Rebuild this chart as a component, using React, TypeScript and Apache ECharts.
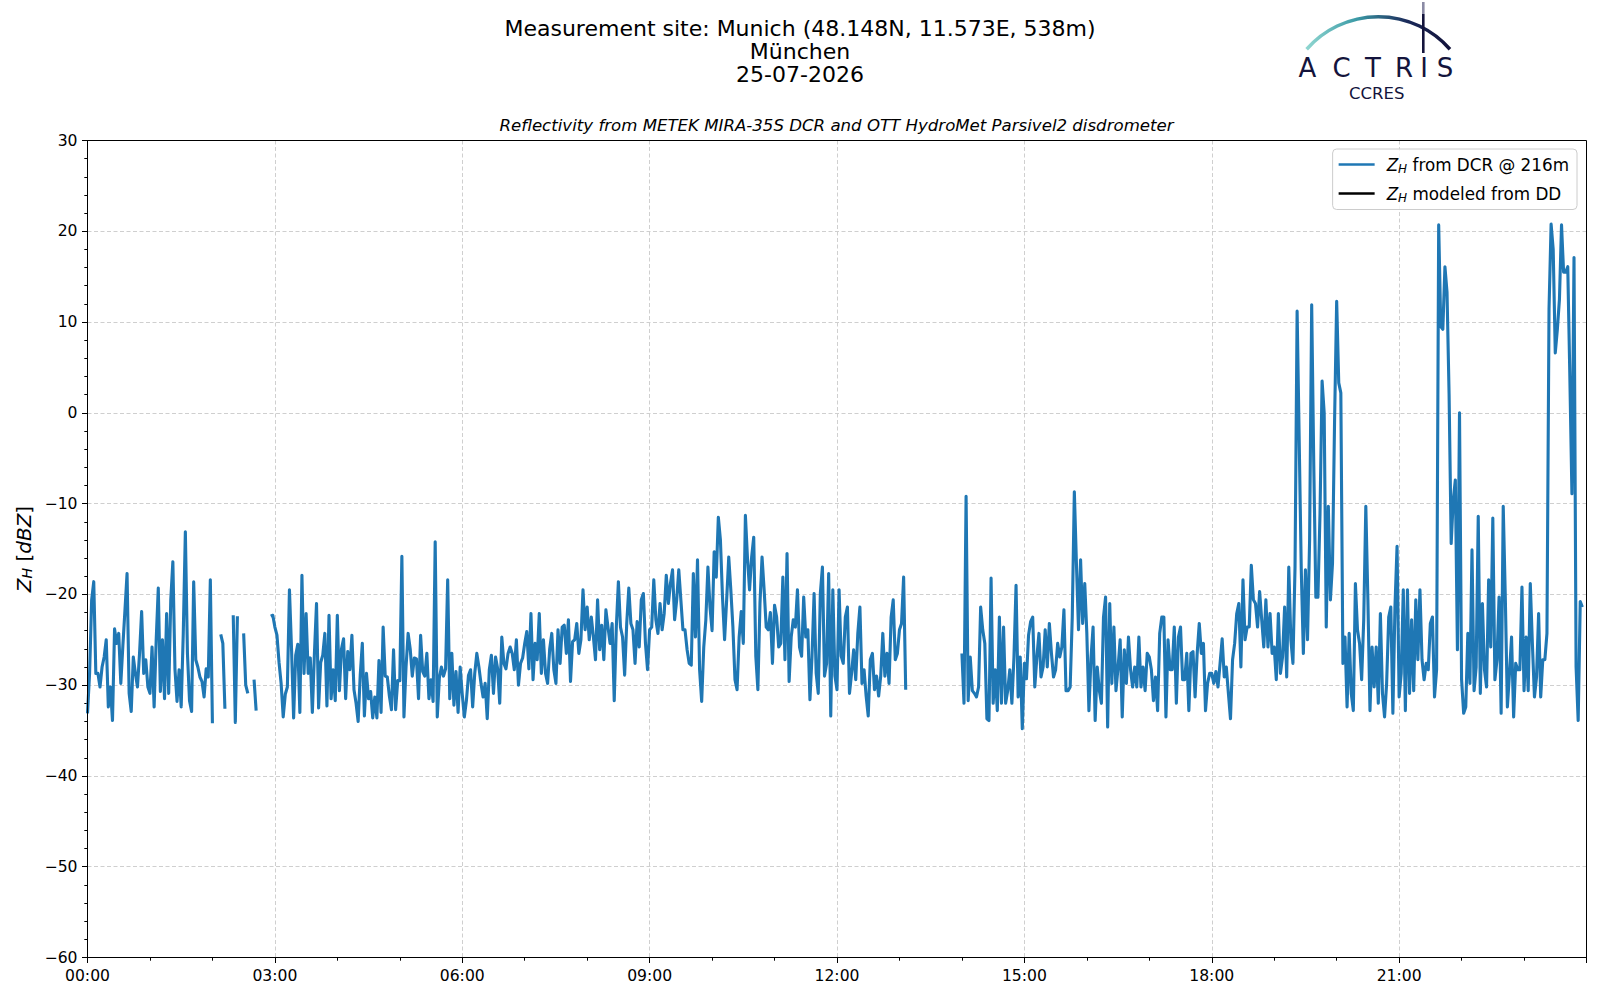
import React, { useEffect, useRef } from "react";
import * as echarts from "echarts";

// ---- Data: Z_H from DCR @ 216m, 2-minute steps, one array per hour (dBZ, null = no data)
const h00 = [-33.1, -28.7, -20.6, -18.6, -28.7, -28.7, -30.2, -28, -26.9, -25, -32.4, -30.2, -33.9, -23.8, -25.4, -24.3, -29.8, -25.6, -21.7, -17.7, -30.9, -32.9, -26.9, -28.7, -30.2, -26.5, -21.9, -28.7, -27.2, -30.2];
const h01 = [-30.9, -25.8, -32.4, -25, -19.3, -30.7, -25, -31.5, -22.1, -30.9, -20.6, -16.4, -28.2, -31.8, -28.3, -32.4, -24.3, -13.1, -26.5, -31.7, -32.9, -18.6, -27.2, -28, -29.1, -29.6, -31.3, -28.2, -29.1, -18.4];
const h02 = [-34.2, null, null, null, -24.4, -25.4, -32.6, null, null, null, -22.3, -34.1, -22.4, null, null, -24.3, -30, -30.9, null, null, -29.4, -32.8, null, null, null, null, null, null, -22.4, -22.3];
const h03 = [-23.6, -24.5, -27.5, -29.8, -33.5, -31, -30.2, -19.5, -26, -33.6, -26.7, -25.5, -33, -17.9, -28.7, -22.1, -28.7, -27, -33, -26.5, -21, -32.5, -27.5, -26.7, -24.3, -32.3, -22.3, -31.5, -28.3, -31.7];
const h04 = [-22.3, -30.6, -26, -24.9, -31.5, -26.3, -28.3, -24.5, -30.5, -32, -34, -28.9, -25.4, -33.4, -28.7, -31.5, -30.7, -33.6, -31.3, -33.6, -27.3, -33, -23.6, -29, -29.1, -31.2, -32.7, -26.1, -32.7, -29.5];
const h05 = [-29.5, -15.8, -33.5, -28, -24.3, -26, -29, -27, -27.1, -31.5, -24.5, -28.5, -29, -26.5, -31.5, -29.4, -31.8, -14.2, -33.5, -29.2, -28, -29, -28.2, -18.4, -31.5, -26.5, -32.2, -28.5, -33, -28];
const h06 = [-31, -33.5, -31.7, -28.9, -28.3, -32.4, -28.7, -26.5, -28, -29.8, -31.3, -29.8, -33.7, -28.3, -26.7, -30.9, -26.9, -28.2, -32, -24.7, -27.6, -28.2, -26.5, -25.8, -26.5, -28.3, -25, -30, -27.6, -27];
const h07 = [-25.4, -24.1, -28.2, -22.1, -29.4, -25.4, -27.2, -22.1, -28.7, -25, -28.7, -29.8, -26, -24.3, -28.3, -29.8, -23.9, -27.6, -23.6, -23.4, -26.5, -22.8, -29.6, -25.2, -25, -23.2, -26.5, -25, -19.5, -23.9];
const h08 = [-21.4, -25, -22.5, -24.7, -27.2, -20.6, -26.1, -23.4, -27.2, -21.7, -23.6, -25.4, -23.2, -31.7, -23.6, -18.6, -23.6, -24.7, -28.9, -23.2, -19.3, -23.2, -23.9, -27.6, -23, -25.8, -20.6, -19.9, -25.4, -28.3];
const h09 = [-23.9, -23.6, -18.4, -22.8, -24.3, -21, -23.9, -22.1, -17.9, -21, -18.8, -17.3, -22.8, -20.6, -17.3, -20.6, -23.9, -23.9, -26.1, -27.6, -27.8, -17.7, -24.7, -16.2, -28.3, -31.8, -25.8, -22.8, -17, -21.4];
const h10 = [-24, -15.3, -18.1, -11.5, -14, -20.3, -25, -20.6, -15.9, -19.5, -23.6, -29.4, -30.5, -24.7, -21.9, -25.4, -11.3, -16, -19.5, -15.9, -13.7, -26.8, -30.5, -21, -15.9, -19.5, -23.6, -23.9, -22, -27.6];
const h11 = [-21.2, -22.5, -25.8, -25.4, -18.1, -27.2, -15.5, -29.6, -24.7, -22.8, -23.6, -19.5, -25.8, -26.8, -20.3, -24.7, -23.9, -31.6, -26.8, -19.9, -28.7, -30.9, -19.9, -17, -29, -27.6, -17.7, -33.4, -19.5, -29];
const h12 = [-30.5, -19.5, -26.8, -27.6, -22.5, -21.4, -30.9, -28.7, -26.1, -29.4, -24.3, -21.4, -29.8, -28.3, -31.2, -33.4, -27.2, -26.5, -30.5, -29, -31.2, -29, -24.3, -29, -26.5, -29.8, -22.5, -20.6, -27.2, -26.5];
const h13 = [-23.9, -23.2, -18.1, -30.5, null, null, null, null, null, null, null, null, null, null, null, null, null, null, null, null, null, null, null, null, null, null, null, null, null, null];
const h14 = [-26.5, -32, -9.2, -31.7, -26.9, -30.6, -30.9, -31.3, -30.2, -21.4, -23.9, -25.4, -33.7, -33.9, -18.2, -32, -28.3, -32.8, -22.5, -32, -23.6, -32, -30.6, -28.3, -32, -26.9, -19, -31.3, -26.9, -34.8];
const h15 = [-27.6, -29.3, -24.5, -23, -22.5, -30.2, -26.9, -24.3, -29.1, -28, -23.9, -28, -23.2, -26.5, -29.1, -28.3, -25.4, -26.9, -25.8, -21.7, -30.6, -30.6, -30.2, -22.5, -8.7, -16.6, -23.9, -16.2, -23.2, -18.8];
const h16 = [-24.3, -32.8, -27, -23.6, -33.9, -28, -30.6, -32, -22.5, -20.3, -34.6, -21, -29.8, -23.6, -30.6, -28, -25, -33.5, -26.1, -29.8, -24.7, -28.3, -30.2, -28, -30.2, -24.7, -30.2, -28, -30.6, -26.5];
const h17 = [-26.9, -28.3, -31.7, -29.1, -32.8, -24.3, -22.5, -22.5, -33.5, -25, -28.3, -28.3, -23.6, -32, -24.7, -23.6, -29.4, -29.4, -26.5, -32.8, -26.5, -26.3, -31.3, -26.5, -23.2, -26.5, -25.4, -32.8, -29.8, -28.7];
const h18 = [-28.7, -29.8, -28.5, -30.2, -27.6, -24.9, -29.1, -28, -30.9, -33.7, -27.2, -25.4, -22.1, -21, -28, -18.4, -25, -23.6, -23.6, -16.8, -20.6, -21, -23.6, -19.7, -22.8, -25.8, -20.6, -25.8, -22.1, -26.5];
const h19 = [-25.8, -29.4, -22.1, -28.7, -26.9, -21.4, -29.1, -17, -25, -27.6, -17, 11.2, -3, -17.3, -26.5, -17.3, -25, -14, 11.9, -5.7, -20.3, -20.3, -11.1, 3.5, 0, -23.6, -10.3, -20.6, -16.6, -0.8];
const h20 = [12.3, 3.3, 2.2, -27.6, -24.7, -32.4, -24.3, -30.9, -32.8, -18.8, -23.9, -25.4, -29.4, -22.8, -10.3, -20.6, -32.8, -25.8, -30.2, -25.8, -32, -22.1, -30.9, -33.5, -29.8, -22.5, -21.4, -33.1, -21.4, -14.7];
const h21 = [-31.3, -28.7, -19.5, -32.8, -19.5, -30.9, -22.8, -30.6, -20.6, -27.2, -19.5, -27.2, -29.4, -27.6, -28.3, -23.2, -22.5, -31.3, -28.3, 20.7, 9.5, 9.2, 16.1, 13.3, 2, -14.4, -9.6, -7.4, -26.1, 0];
const h22 = [-29.4, -33.1, -32.4, -24.3, -29.8, -15.1, -30.6, -28, -11.4, -30.9, -21, -28.3, -30.2, -18.4, -25.8, -11.6, -29.4, -27.2, -20.3, -33.1, -10.3, -20.3, -32.4, -28.7, -24.7, -33.5, -27.6, -28.3, -28.3, -19.2];
const h23 = [-30.6, -24.7, -30.6, -18.8, -25.4, -31.3, -29.1, -22.1, -31.3, -27.2, -27.2, -24.3, 11.4, 20.8, 18, 6.6, 9.2, 12.5, 20.7, 15.5, 15.5, 16.1, 4, -8.9, 17.1, -28, -33.9, -20.8, -21.4, null];

// Z_H modeled from disdrometer (no data available this day)
const ddValues: number[][] = [];

const hourly = [h00, h01, h02, h03, h04, h05, h06, h07, h08, h09, h10, h11, h12, h13, h14, h15, h16, h17, h18, h19, h20, h21, h22, h23];
const SAMPLES_PER_HOUR = 30; // 2-minute steps

const xTicks = [0, 3, 6, 9, 12, 15, 18, 21];
const yTicks = [-60, -50, -40, -30, -20, -10, 0, 10, 20, 30];

const TITLE_LINES = ["Measurement site: Munich (48.148N, 11.573E, 538m)", "München", "25-07-2026"];
const SUBTITLE = "Reflectivity from METEK MIRA-35S DCR and OTT HydroMet Parsivel2 disdrometer";
const SERIES_DCR = "Z_H from DCR @ 216m";
const SERIES_DD = "Z_H modeled from DD";

const FONT = "'DejaVu Sans', sans-serif";
const NAVY = "#14143c";

const GRID = { left: 87.5, top: 140.5, width: 1499, height: 817 };

function buildDcr() {
  const out: (number | null)[][] = [];
  hourly.forEach((arr, h) => {
    arr.forEach((v, j) => {
      out.push([Math.round((h + j / SAMPLES_PER_HOUR) * 10000) / 10000, v as any]);
    });
  });
  return out;
}

const logoLetters = [
  { t: "A", x: 1307.3 },
  { t: "C", x: 1341.7 },
  { t: "T", x: 1373 },
  { t: "R", x: 1404 },
  { t: "I", x: 1424 },
  { t: "S", x: 1445 },
];

export default function App() {
  const ref = useRef<HTMLDivElement>(null);
  useEffect(() => {
    if (!ref.current) return;
    const chart = echarts.init(ref.current, null, { renderer: "svg" });
    const dcr = buildDcr();

    const option: any = {
      animation: false,
      backgroundColor: "#ffffff",
      title: [
        {
          text: TITLE_LINES.join("\n"),
          left: 800,
          top: 16.5,
          padding: 0,
          textAlign: "center",
          textStyle: { fontFamily: FONT, fontSize: 22, fontWeight: "normal", color: "#000", lineHeight: 23 },
        },
        {
          text: SUBTITLE,
          left: 836.5,
          top: 115.5,
          padding: 0,
          textAlign: "center",
          textStyle: { fontFamily: FONT, fontSize: 16.6, fontStyle: "italic", fontWeight: "normal", color: "#000", lineHeight: 20 },
        },
      ],
      legend: {
        show: true,
        orient: "vertical",
        right: 23,
        top: 149,
        padding: [7, 8, 6, 6],
        itemGap: 10.5,
        itemWidth: 36,
        itemHeight: 2.7,
        icon: "rect",
        selectedMode: false,
        backgroundColor: "rgba(255,255,255,0.8)",
        borderColor: "#cccccc",
        borderWidth: 1,
        borderRadius: 4,
        data: [SERIES_DCR, SERIES_DD],
        formatter: (name: string) => {
          const rest = name.replace("Z_H", "");
          return "{z|Z}{h|H}{t|" + rest + "}";
        },
        textStyle: {
          fontFamily: FONT,
          fontSize: 16.8,
          color: "#000",
          padding: [0, 0, 0, 7],
          rich: {
            z: { fontFamily: FONT, fontSize: 16.8, fontStyle: "italic", color: "#000" },
            h: { fontFamily: FONT, fontSize: 12, fontStyle: "italic", color: "#000", padding: [8, 0, 0, 0] },
            t: { fontFamily: FONT, fontSize: 16.8, color: "#000" },
          },
        },
      },
      grid: {
        left: GRID.left,
        top: GRID.top,
        width: GRID.width,
        height: GRID.height,
        show: false,
        containLabel: false,
        outerBoundsMode: "none",
      },
      xAxis: {
        type: "value",
        min: xTicks[0],
        max: 24,
        interval: 3,
        axisLine: { show: true, onZero: false, lineStyle: { color: "#000", width: 1 } },
        axisTick: { show: true, inside: false, length: 5.5, lineStyle: { color: "#000", width: 1 } },
        minorTick: { show: true, splitNumber: 3, length: 3.2, lineStyle: { color: "#000", width: 1 } },
        splitLine: { show: true, showMinLine: false, showMaxLine: false, lineStyle: { color: "#cfcfcf", width: 1, type: [4, 2.5] } },
        minorSplitLine: { show: false },
        axisLabel: {
          show: true,
          showMaxLabel: false,
          margin: 10,
          fontFamily: FONT,
          fontSize: 15.6,
          color: "#000",
          formatter: (v: number) => (xTicks.includes(v) ? (v < 10 ? "0" : "") + v + ":00" : ""),
        },
      },
      yAxis: {
        type: "value",
        min: yTicks[0],
        max: yTicks[yTicks.length - 1],
        interval: 10,
        name: "{z|Z}{h|H}{t| [}{z|dBZ}{t|]}",
        nameLocation: "middle",
        nameRotate: 90,
        nameGap: 53,
        nameTextStyle: {
          fontFamily: FONT,
          fontSize: 20,
          color: "#000",
          rich: {
            z: { fontFamily: FONT, fontSize: 20, fontStyle: "italic", color: "#000" },
            h: { fontFamily: FONT, fontSize: 14, fontStyle: "italic", color: "#000", padding: [6, 0, 0, 0] },
            t: { fontFamily: FONT, fontSize: 20, color: "#000" },
          },
        },
        axisLine: { show: true, onZero: false, lineStyle: { color: "#000", width: 1 } },
        axisTick: { show: true, inside: false, length: 5.5, lineStyle: { color: "#000", width: 1 } },
        minorTick: { show: true, splitNumber: 5, length: 3.2, lineStyle: { color: "#000", width: 1 } },
        splitLine: { show: true, showMinLine: false, showMaxLine: false, lineStyle: { color: "#cfcfcf", width: 1, type: [4, 2.5] } },
        minorSplitLine: { show: false },
        axisLabel: {
          show: true,
          margin: 10,
          fontFamily: FONT,
          fontSize: 15.6,
          color: "#000",
          formatter: (v: number) => String(v).replace("-", "\u2212"),
        },
      },
      series: [
        {
          name: SERIES_DCR,
          type: "line",
          data: dcr,
          showSymbol: false,
          symbol: "none",
          connectNulls: false,
          clip: true,
          color: "#1f77b4",
          lineStyle: { color: "#1f77b4", width: 3.1, join: "round" },
          itemStyle: { color: "#1f77b4" },
          z: 3,
        },
        {
          name: SERIES_DD,
          type: "line",
          data: ddValues,
          showSymbol: false,
          symbol: "none",
          color: "#000000",
          lineStyle: { color: "#000000", width: 2.6 },
          itemStyle: { color: "#000000" },
          z: 4,
        },
      ],
      graphic: [
        {
          type: "rect",
          silent: true,
          z: 50,
          shape: { x: GRID.left, y: GRID.top, width: GRID.width, height: GRID.height },
          style: { fill: "none", stroke: "#000", lineWidth: 1 },
        },
        {
          type: "arc",
          silent: true,
          shape: { cx: 1378.3, cy: 111.8, r: 95.1, startAngle: -2.424, endAngle: -0.7176, clockwise: true },
          style: {
            fill: "none",
            lineWidth: 3.5,
            stroke: new echarts.graphic.LinearGradient(0, 0, 1, 0, [
              { offset: 0, color: "#8fd6d0" },
              { offset: 0.35, color: "#3b9aa6" },
              { offset: 0.7, color: "#1b2a5a" },
              { offset: 1, color: "#12123a" },
            ]),
          },
        },
        {
          type: "line",
          silent: true,
          shape: { x1: 1423.3, y1: 2, x2: 1423.3, y2: 14 },
          style: { lineWidth: 2.6, stroke: "#8a8aa4" },
        },
        {
          type: "line",
          silent: true,
          shape: { x1: 1423.3, y1: 14, x2: 1423.3, y2: 53 },
          style: { lineWidth: 2.6, stroke: NAVY },
        },
        ...logoLetters.map((l) => ({
          type: "text",
          silent: true,
          x: l.x,
          y: 67.5,
          style: {
            text: l.t,
            fill: NAVY,
            font: "normal 26px 'DejaVu Sans', sans-serif",
            lineHeight: 24,
            textAlign: "center",
            textVerticalAlign: "middle",
          },
        })),
        {
          type: "text",
          silent: true,
          x: 1376.7,
          y: 93.5,
          style: {
            text: "CCRES",
            fill: NAVY,
            font: "normal 16.5px 'DejaVu Sans', sans-serif",
            lineHeight: 16,
            textAlign: "center",
            textVerticalAlign: "middle",
          },
        },
      ],
    };

    chart.setOption(option);
    return () => {
      chart.dispose();
    };
  }, []);

  return (
    <div
      ref={ref}
      style={{ position: "fixed", left: 0, top: 0, width: 1600, height: 1000, background: "#fff" }}
    />
  );
}
